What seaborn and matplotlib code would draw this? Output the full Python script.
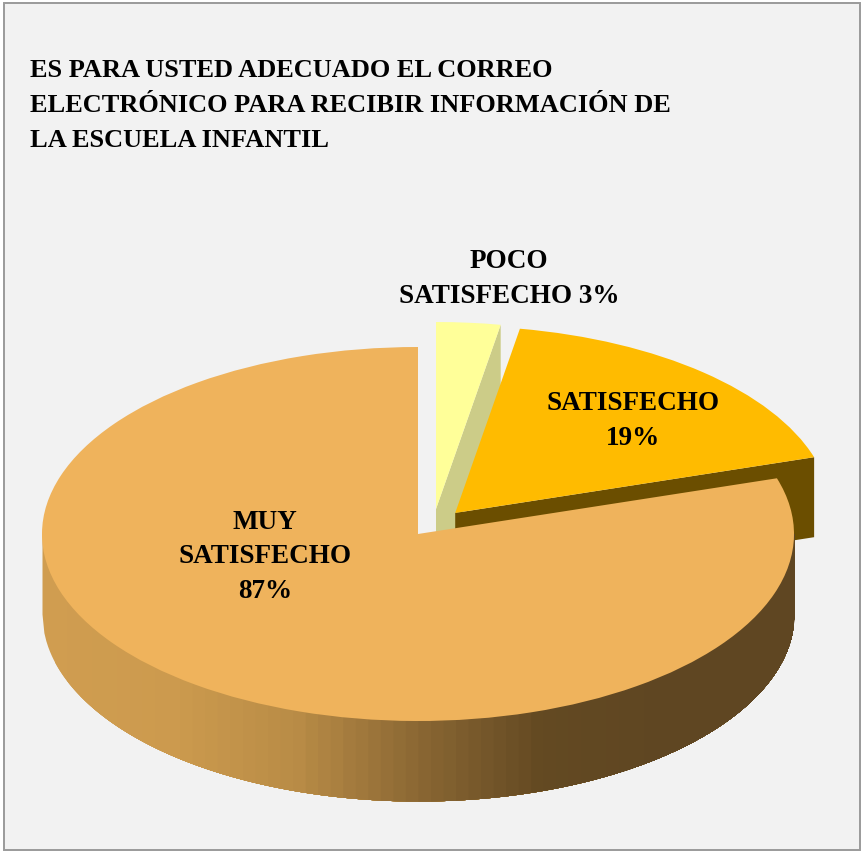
import numpy as np
import matplotlib.pyplot as plt
import seaborn as sns
from matplotlib.patches import Rectangle

# shares printed on the chart
categories = ["MUY\nSATISFECHO", "SATISFECHO", "POCO\nSATISFECHO"]
shares = [87, 19, 3]
title_lines = [
    "ES PARA USTED ADECUADO EL CORREO",
    "ELECTRÓNICO PARA RECIBIR INFORMACIÓN DE",
    "LA ESCUELA INFANTIL",
]

W, H = 863, 853
CX, CY, RX, RY = 418, 535, 376, 187
DEPTH = 80 / RY
EXPLODE = [0, 0.15, 0.134]

TOP_COLORS = ["#EFB35C", "#FFBB00", "#FFFF99"]
CUT_COLORS = {1: "#6B4E00", 2: "#CCCC88"}
SIDE_ANCHORS = ["#D09D50", "#CC9A4E", "#B98C46", "#8A6733", "#634922", "#5F4622", "#5F4622"]
BANDS = 60


def cut_wall(ax, wedge, color, z):
    # radial face of an exploded slice, along its clockwise edge
    cx, cy = wedge.center
    t = np.radians(wedge.theta1)
    rx, ry = cx + np.cos(t), cy + np.sin(t)
    ax.fill([cx, rx, rx, cx], [cy, ry, ry - DEPTH, cy - DEPTH],
            color=color, linewidth=0, zorder=z)


sns.set_theme(style="white")
plt.rcParams["font.family"] = ["Liberation Serif", "DejaVu Serif"]

fig = plt.figure(figsize=(W / 100, H / 100), dpi=100, facecolor="white")
fig.patches.append(Rectangle((3.5 / W, 2 / H), 856.5 / W, 847.5 / H, transform=fig.transFigure,
                             facecolor="#F2F2F2", edgecolor="#9A9A9A", linewidth=1.4, zorder=-1))

ax = fig.add_axes([0, 0, 1, 1])
wedges, _ = ax.pie(shares, colors=TOP_COLORS, startangle=90, explode=EXPLODE,
                   wedgeprops={"linewidth": 0})
ax.set_aspect("auto")
ax.set_xlim(-CX / RX, (W - CX) / RX)
ax.set_ylim((CY - H) / RY, CY / RY)
ax.set_axis_off()

# the third slice sits further right than its explode direction gives
wedges[2].set_center((18 / RX, wedges[2].center[1]))

wedges[2].set_zorder(2)
cut_wall(ax, wedges[2], CUT_COLORS[2], 1)
cut_wall(ax, wedges[1], CUT_COLORS[1], 3)
wedges[1].set_zorder(4)

# outer wall of the big slice, shaded in vertical bands; each band runs
# under the next one so no seams show
side = sns.blend_palette(SIDE_ANCHORS, n_colors=BANDS)
edges = np.linspace(-1, 1, BANDS + 1)
for i, c in enumerate(side):
    xs = np.linspace(edges[i], 1, 400 - 6 * i)
    ax.fill_between(xs, -np.sqrt(np.clip(1 - xs ** 2, 0, None)) - DEPTH, 0,
                    color=c, linewidth=0, zorder=5)
wedges[0].set_zorder(6)

fig.text(30 / W, 1 - 105.5 / H, "\n".join(title_lines), fontsize=19, fontweight="bold",
         color="black", va="center", ha="left", linespacing=1.66)

label_pos = [(265, 557), (633, 421), (509, 279)]
label_text = [
    f"{categories[0]}\n{shares[0]}%",
    f"{categories[1]}\n{shares[1]}%",
    f"{categories[2]} {shares[2]}%",
]
for (px, py), txt in zip(label_pos, label_text):
    fig.text(px / W, 1 - py / H, txt, fontsize=19.5, fontweight="bold", color="black",
             ha="center", va="center", linespacing=1.5, zorder=10)

fig.savefig("out.png", dpi=100)
plt.close(fig)
